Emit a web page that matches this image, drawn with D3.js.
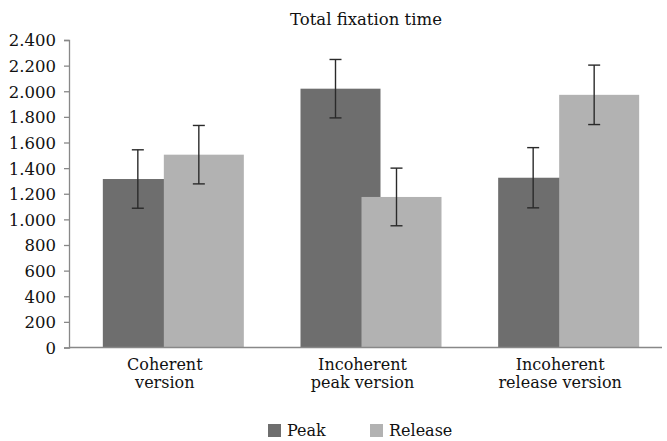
<!DOCTYPE html>
<html>
<head>
<meta charset="utf-8">
<script src="https://cdn.jsdelivr.net/npm/d3@7"></script>
<style>
  body { margin: 0; background: #fff; }
  svg text { font-family: "DejaVu Serif", serif; fill: #111; }
</style>
</head>
<body>
<div id="chart"></div>
<script>
// chart data
const categories = ["Coherent version", "Incoherent peak version", "Incoherent release version"];
const catLines = [["Coherent", "version"], ["Incoherent", "peak version"], ["Incoherent", "release version"]];
const series = ["Peak", "Release"];
const peakValues = [1315, 2020, 1325];
const peakErrors = [228, 228, 235];
const releaseValues = [1505, 1175, 1972];
const releaseErrors = [228, 225, 232];
const yTicks = [0, 200, 400, 600, 800, 1000, 1200, 1400, 1600, 1800, 2000, 2200, 2400];

const W = 667, H = 441;
const colors = { Peak: "#6e6e6e", Release: "#b2b2b2" };

const svg = d3.select("#chart").append("svg")
  .attr("width", W)
  .attr("height", H);

const x = d3.scaleBand().domain(categories).range([69, 662]);
const xSub = d3.scalePoint().domain(series).range([-30.5, 30.5]);
const barW = 80;
const shift = 5.5; // bar clusters sit a bit right of the band centre
const y = d3.scaleLinear().domain([0, 2400]).range([347.5, 40]);

const fmt = d3.formatLocale({ decimal: ",", thousands: ".", grouping: [3], currency: ["", ""] }).format(",");

// title
svg.append("text")
  .attr("x", 366).attr("y", 25)
  .attr("text-anchor", "middle")
  .style("font-size", "16.5px")
  .text("Total fixation time");

// y axis
const yAxis = svg.append("g")
  .attr("transform", "translate(69,0)")
  .call(d3.axisLeft(y).tickValues(yTicks).tickSize(5).tickPadding(8).tickFormat(fmt));
yAxis.select(".domain").attr("stroke", "#888").attr("stroke-width", 1.3);
yAxis.selectAll(".tick line").attr("stroke", "#888").attr("stroke-width", 1.3);
yAxis.selectAll(".tick text")
  .style("font-family", "'DejaVu Serif', serif")
  .style("font-size", "16.5px")
  .attr("dy", "0.36em")
  .style("fill", "#111");

// bars
const rows = categories.map((c, i) => ({
  cat: c,
  vals: [
    { s: "Peak", v: peakValues[i], e: peakErrors[i] },
    { s: "Release", v: releaseValues[i], e: releaseErrors[i] }
  ]
}));

const groups = svg.selectAll("g.grp").data(rows).enter().append("g")
  .attr("class", "grp")
  .attr("transform", d => `translate(${x(d.cat) + x.bandwidth() / 2 + shift},0)`);

groups.selectAll("rect").data(d => d.vals).enter().append("rect")
  .attr("x", d => xSub(d.s) - barW / 2)
  .attr("y", d => y(d.v))
  .attr("width", barW)
  .attr("height", d => y(0) - y(d.v))
  .attr("fill", d => colors[d.s]);

// error bars
const eb = groups.selectAll("g.err").data(d => d.vals).enter().append("g")
  .attr("class", "err")
  .attr("transform", d => `translate(${xSub(d.s) - 5},0)`)
  .attr("stroke", "#2a2a2a")
  .attr("stroke-width", 1.4);
eb.append("line")
  .attr("x1", 0).attr("x2", 0)
  .attr("y1", d => y(d.v + d.e)).attr("y2", d => y(d.v - d.e));
eb.append("line")
  .attr("x1", -6).attr("x2", 6)
  .attr("y1", d => y(d.v + d.e)).attr("y2", d => y(d.v + d.e));
eb.append("line")
  .attr("x1", -6).attr("x2", 6)
  .attr("y1", d => y(d.v - d.e)).attr("y2", d => y(d.v - d.e));

// x axis line
svg.append("line")
  .attr("x1", 69).attr("x2", 662)
  .attr("y1", y(0)).attr("y2", y(0))
  .attr("stroke", "#888").attr("stroke-width", 1.3);

// category labels
categories.forEach((c, i) => {
  const t = svg.append("text")
    .attr("text-anchor", "middle")
    .style("font-size", "16px");
  catLines[i].forEach((ln, j) => {
    t.append("tspan")
      .attr("x", x(c) + x.bandwidth() / 2 - 3)
      .attr("y", 370 + j * 18)
      .text(ln);
  });
});

// legend
const legend = svg.append("g").attr("transform", "translate(268,424)");
const legX = d3.scaleOrdinal().domain(series).range([0, 102]);
const li = legend.selectAll("g").data(series).enter().append("g")
  .attr("transform", d => `translate(${legX(d)},0)`);
li.append("rect").attr("width", 13).attr("height", 13).attr("fill", d => colors[d]);
li.append("text").attr("x", 19).attr("y", 12)
  .style("font-size", "16px")
  .text(d => d);
</script>
</body>
</html>
